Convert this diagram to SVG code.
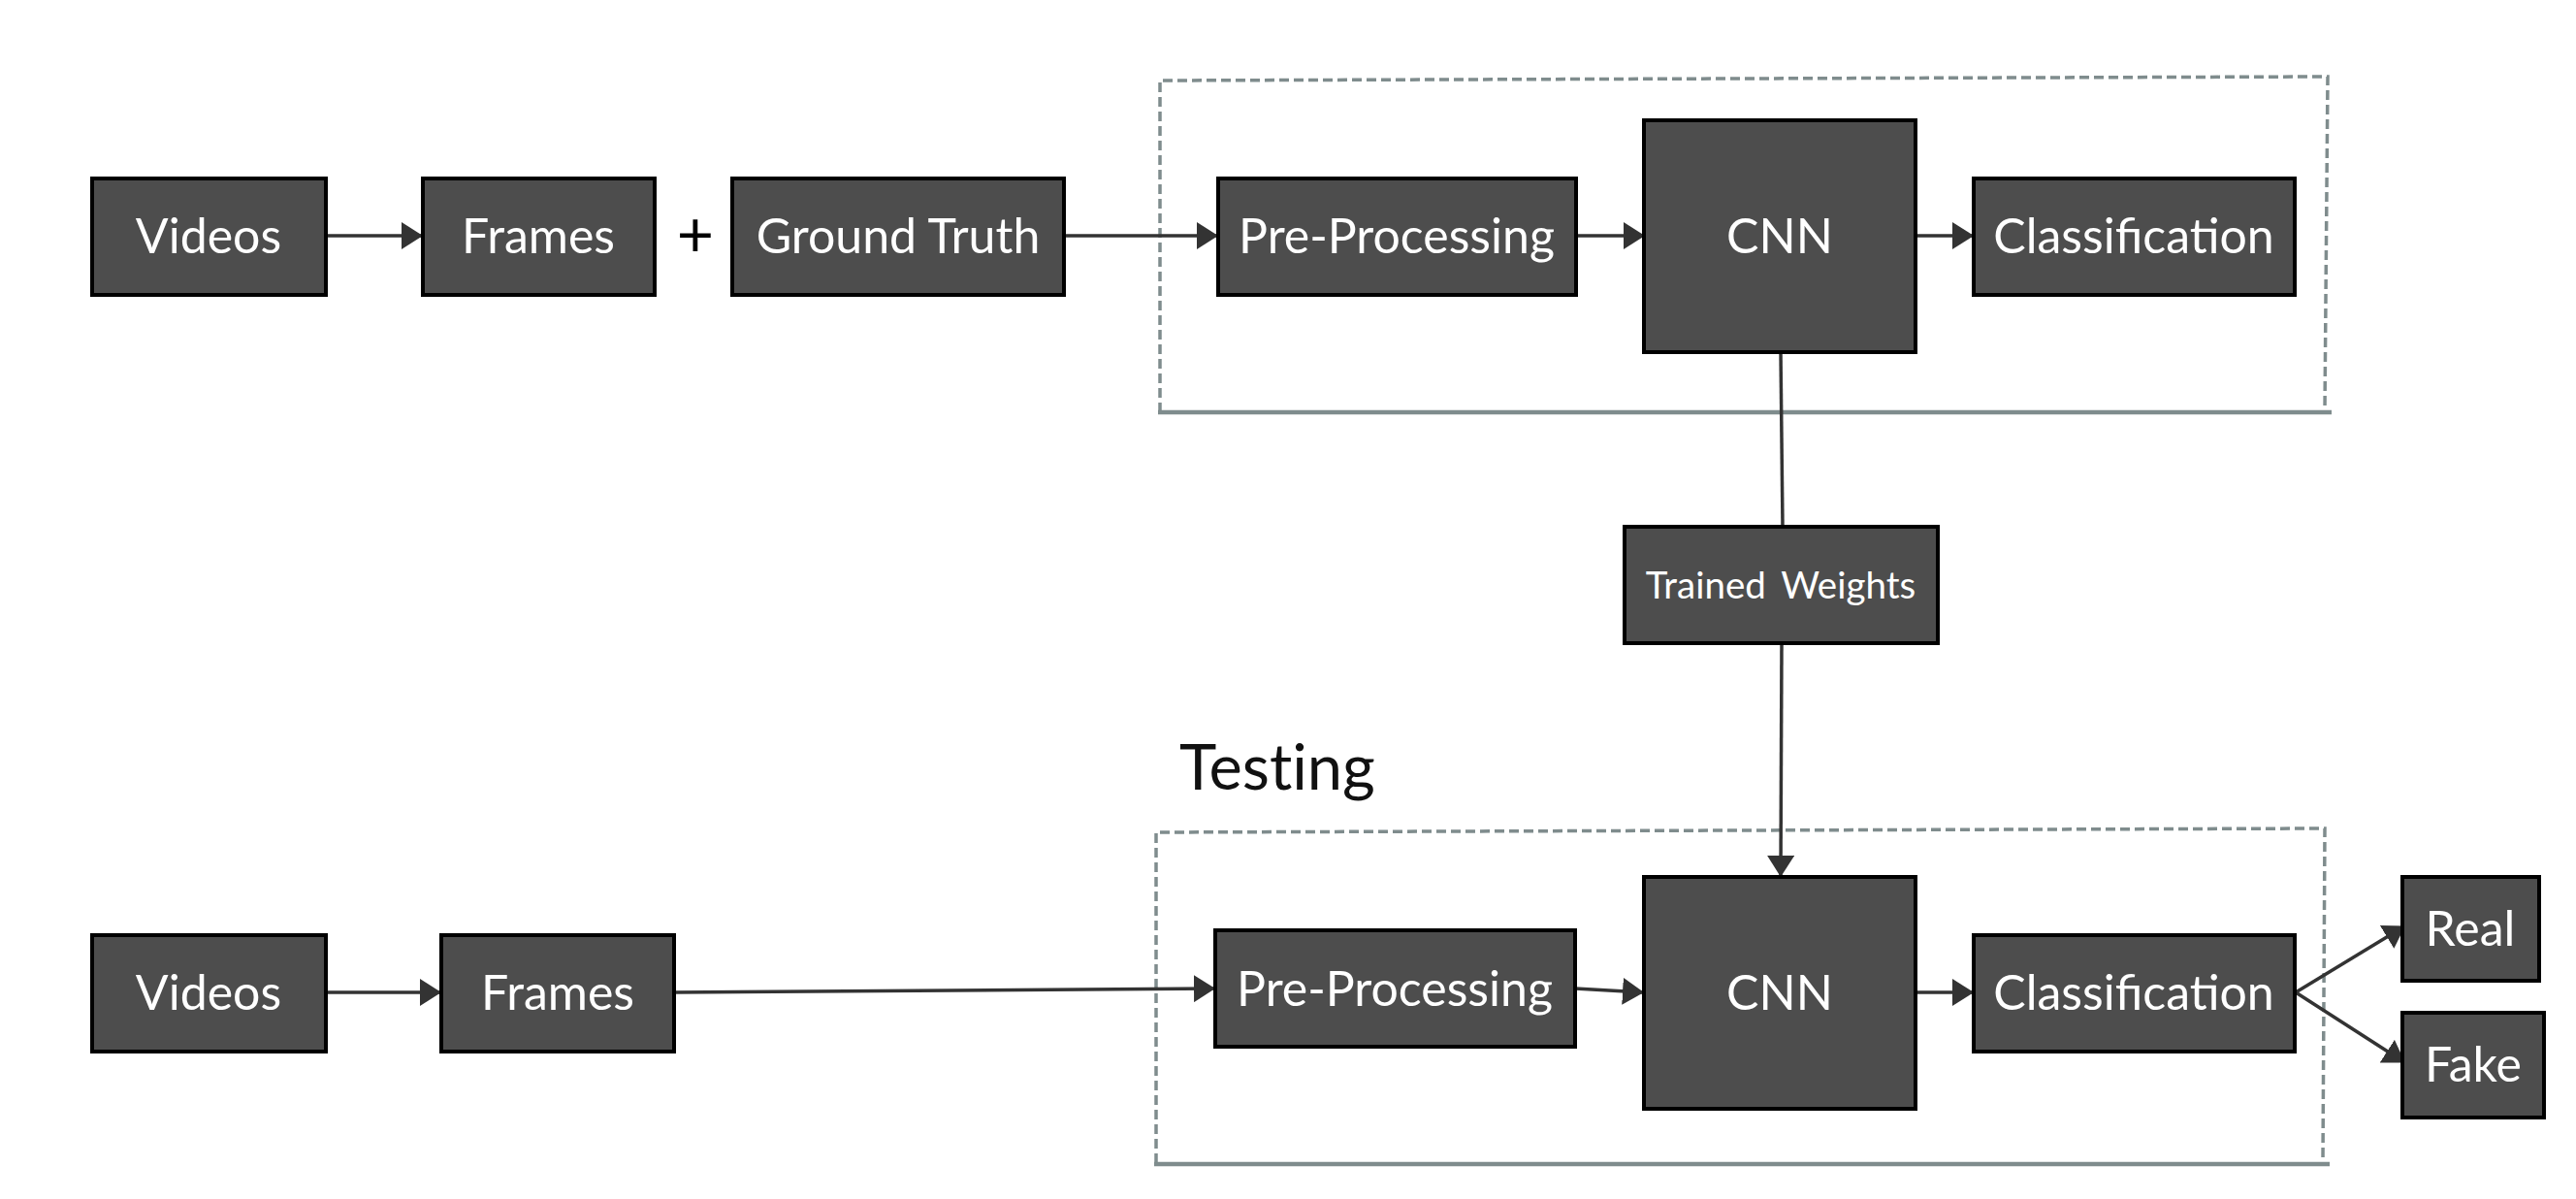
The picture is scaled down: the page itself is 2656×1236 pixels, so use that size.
<svg xmlns="http://www.w3.org/2000/svg" width="2656" height="1236" viewBox="0 0 2656 1236">
<style>
.box{fill:#4d4d4d;stroke:#000;stroke-width:4}
.lbl{font-family:Lato,"Open Sans","Liberation Sans",sans-serif;font-size:50px;fill:#fff;text-anchor:middle}
.sm{font-size:38.5px}
.edge{stroke:#333;stroke-width:3.5;fill:none}
.dash{stroke:#7f8c8d;stroke-width:3.5;fill:none;stroke-dasharray:10 5}
.solid{stroke:#7f8c8d;stroke-width:4.5;fill:none}
</style>
<defs>
<marker id="arr" viewBox="0 0 22 28" refX="21" refY="14" markerWidth="22" markerHeight="28" markerUnits="userSpaceOnUse" orient="auto">
<path d="M0,0 L22,14 L0,28 Z" fill="#333"/>
</marker>
</defs>
<rect width="2656" height="1236" fill="#fff"/>
<g id="groups">
<path class="dash" d="M1196,425 L1196,83 L2400,79 L2397,423"/>
<line class="solid" x1="1194" y1="425" x2="2404" y2="425"/>
<path class="dash" d="M1192,1199 L1192,858 L2397,854 L2395,1198"/>
<line class="solid" x1="1190" y1="1200" x2="2402" y2="1200"/>
<text x="1216" y="814" font-family="Lato,'Open Sans','Liberation Sans',sans-serif" font-size="65" fill="#111" style="font-variant-ligatures:none">Testing</text>
<text x="717" y="265" font-family="Lato,'Open Sans','Liberation Sans',sans-serif" font-size="66" fill="#000" text-anchor="middle">+</text>
</g>
<g id="connectors">
<line class="edge" x1="336" y1="243" x2="435" y2="243" marker-end="url(#arr)"/>
<line class="edge" x1="1097" y1="243" x2="1255" y2="243" marker-end="url(#arr)"/>
<line class="edge" x1="1625" y1="243" x2="1695" y2="243" marker-end="url(#arr)"/>
<line class="edge" x1="1975" y1="243" x2="2034" y2="243" marker-end="url(#arr)"/>
<line class="edge" x1="1836" y1="363" x2="1838" y2="543"/>
<line class="edge" x1="1837" y1="663" x2="1836" y2="903" marker-end="url(#arr)"/>
<line class="edge" x1="336" y1="1023" x2="454" y2="1023" marker-end="url(#arr)"/>
<line class="edge" x1="695" y1="1023" x2="1252" y2="1019" marker-end="url(#arr)"/>
<line class="edge" x1="1624" y1="1019" x2="1694" y2="1023" marker-end="url(#arr)"/>
<line class="edge" x1="1975" y1="1023" x2="2034" y2="1023" marker-end="url(#arr)"/>
<line class="edge" x1="2367" y1="1023" x2="2479" y2="955" marker-end="url(#arr)"/>
<line class="edge" x1="2367" y1="1023" x2="2479" y2="1095" marker-end="url(#arr)"/>
</g>
<g id="videos1"><rect class="box" x="95" y="184" width="241" height="120"/><text class="lbl" x="215" y="261">Videos</text></g>
<g id="frames1"><rect class="box" x="436" y="184" width="239" height="120"/><text class="lbl" x="555" y="261">Frames</text></g>
<g id="groundtruth"><rect class="box" x="755" y="184" width="342" height="120"/><text class="lbl" x="926" y="261">Ground Truth</text></g>
<g id="preproc1"><rect class="box" x="1256" y="184" width="369" height="120"/><text class="lbl" x="1440" y="261">Pre-Processing</text></g>
<g id="cnn1"><rect class="box" x="1695" y="124" width="280" height="239"/><text class="lbl" x="1835" y="261">CNN</text></g>
<g id="class1"><rect class="box" x="2035" y="184" width="331" height="120"/><text class="lbl" x="2200" y="261">Classification</text></g>
<g id="weights"><rect class="box" x="1675" y="543" width="323" height="120"/><text class="lbl sm" x="1836" y="617" word-spacing="6">Trained Weights</text></g>
<g id="videos2"><rect class="box" x="95" y="964" width="241" height="120"/><text class="lbl" x="215" y="1041">Videos</text></g>
<g id="frames2"><rect class="box" x="455" y="964" width="240" height="120"/><text class="lbl" x="575" y="1041">Frames</text></g>
<g id="preproc2"><rect class="box" x="1253" y="959" width="371" height="120"/><text class="lbl" x="1438" y="1037">Pre-Processing</text></g>
<g id="cnn2"><rect class="box" x="1695" y="904" width="280" height="239"/><text class="lbl" x="1835" y="1041">CNN</text></g>
<g id="class2"><rect class="box" x="2035" y="964" width="331" height="120"/><text class="lbl" x="2200" y="1041">Classification</text></g>
<g id="real"><rect class="box" x="2477" y="904" width="141" height="107"/><text class="lbl" x="2547" y="975">Real</text></g>
<g id="fake"><rect class="box" x="2477" y="1044" width="146" height="108"/><text class="lbl" x="2550" y="1115">Fake</text></g>
</svg>
